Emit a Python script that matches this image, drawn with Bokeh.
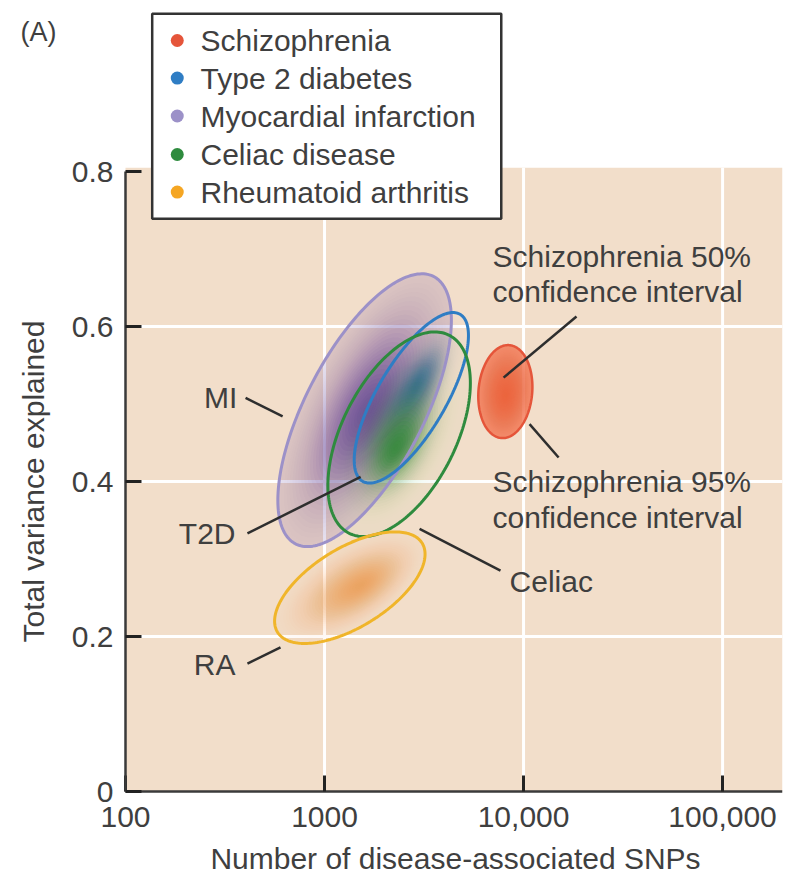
import numpy as np
from bokeh.plotting import figure
from bokeh.models import (Range1d, FixedTicker, CustomJSTickFormatter, Label,
                          ColumnDataSource)
from bokeh.embed import file_html
from bokeh.resources import INLINE
from bokeh.core.properties import value

# ---------------- data ----------------
diseases = ["Schizophrenia", "Type 2 diabetes", "Myocardial infarction",
            "Celiac disease", "Rheumatoid arthritis"]
# 95% confidence region of each disease (centre, half-extent, correlation)
center_snps = [8100, 2730, 1590, 2370, 1340]          # number of SNPs
center_var = [0.516, 0.508, 0.492, 0.461, 0.263]      # total variance explained
halfwidth_log10_snps = [0.136, 0.287, 0.436, 0.358, 0.378]
halfwidth_var = [0.060, 0.110, 0.176, 0.132, 0.072]
correlation = [0.10, 0.73, 0.66, 0.50, 0.60]
# densest point of each posterior cloud
peak_snps = [8120, 2930, 1610, 2280, 1520]
peak_var = [0.511, 0.526, 0.492, 0.443, 0.266]

x_ticks = [100, 1000, 10000, 100000]
y_ticks = [0, 0.2, 0.4, 0.6, 0.8]

x_title = "Number of disease-associated SNPs"
y_title = "Total variance explained"

# ---------------- styles ----------------
FONT = "Liberation Sans"
TXT = "#3f3f3f"
BG = "#F2DECA"
outline_colors = ["#E5553A", "#2F7DC4", "#9C91C8", "#2E8B3E", "#F0B52A"]
marker_colors = ["#E5553A", "#2F7DC4", "#9C91C8", "#2E8B3E", "#F5A623"]
fill_colors = ["#F0653F", "#3A6E9E", "#6B4A9C", "#2F8A36", "#EE9A45"]
# (peak opacity, edge opacity, sigma) of the blurred density
fill_profile = [(0.95, 0.60, 0.60), (0.85, 0.0, 0.30), (0.88, 0.14, 0.40),
                (0.88, 0.03, 0.28), (0.72, 0.0, 0.40)]
draw_order = [2, 1, 3, 4, 0]

X_MIN, X_MAX = 100, 200000
# the frame covers the whole canvas (both axes are pinned at X_MIN / 0),
# so the tag, tick labels and titles all stay inside it
VIEW_X_START = 10 ** (2 - 125 / 199.03)
VIEW_Y_START = -(879 - 791) / 775
VIEW_Y_END = 791 / 775

p = figure(width=794, height=879, x_axis_type="log",
           x_range=Range1d(VIEW_X_START, X_MAX),
           y_range=Range1d(VIEW_Y_START, VIEW_Y_END),
           output_backend="svg", toolbar_location=None,
           min_border_left=0, min_border_right=12, min_border_top=0,
           min_border_bottom=0)
p.xgrid.visible = False
p.ygrid.visible = False
p.outline_line_color = None
p.background_fill_color = "white"
p.border_fill_color = "white"

# background panel and white grid
p.quad(left=[X_MIN], right=[X_MAX], bottom=[0], top=[0.805],
       fill_color=BG, line_color=None)
p.segment(x0=x_ticks[1:], y0=[0] * 3, x1=x_ticks[1:], y1=[0.805] * 3,
          line_color="white", line_width=3)
p.segment(x0=[X_MIN] * 3, y0=y_ticks[1:4], x1=[X_MAX] * 3, y1=y_ticks[1:4],
          line_color="white", line_width=3)


def region(i, scale=1.0, cx=None, cy=None, n=200):
    t = np.linspace(0, 2 * np.pi, n)
    d = np.arccos(correlation[i])
    cx = center_snps[i] if cx is None else cx
    cy = center_var[i] if cy is None else cy
    u = np.log10(cx) + scale * halfwidth_log10_snps[i] * np.cos(t)
    v = cy + scale * halfwidth_var[i] * np.cos(t - d)
    return 10 ** u, v


# blurred densities
N = 30
for i in draw_order:
    peak, edge, sig = fill_profile[i]
    xs, ys, alphas = [], [], []
    prev = 0.0
    for j in range(N):
        r_out = 1 - j / N
        r_mid = r_out - 0.5 / N
        target = edge + (peak - edge) * np.exp(-r_mid ** 2 / (2 * sig ** 2))
        a = 1 - (1 - target) / (1 - prev)
        prev = target
        # blend the centre from the region centre toward the density peak
        w = 1 - r_out
        lx = 10 ** ((1 - w) * np.log10(center_snps[i]) + w * np.log10(peak_snps[i]))
        ly = (1 - w) * center_var[i] + w * peak_var[i]
        x, y = region(i, r_out, lx, ly)
        xs.append(x)
        ys.append(y)
        alphas.append(max(a, 0.0))
    src = ColumnDataSource(dict(xs=xs, ys=ys, a=alphas))
    p.patches("xs", "ys", source=src, fill_color=fill_colors[i],
              fill_alpha="a", line_color=None)

# outlines
for i in draw_order:
    x, y = region(i)
    p.line(x, y, line_color=outline_colors[i],
           line_width=3 if i else 2.5)

# leader lines
leaders = dict(
    x0=[401, 410, 410, 3002, 18450, 10720],
    y0=[0.508, 0.333, 0.165, 0.339, 0.613, 0.474],
    x1=[616, 1518, 601, 7657, 7935, 15000],
    y1=[0.484, 0.406, 0.186, 0.285, 0.534, 0.431],
)
p.segment("x0", "y0", "x1", "y1", source=ColumnDataSource(leaders),
          line_color="#2e2e2e", line_width=2.5)

# annotations
left_labels = ColumnDataSource(dict(x=[365, 357, 357], y=[0.508, 0.333, 0.164],
                                    t=["MI", "T2D", "RA"]))
p.text("x", "y", text="t", source=left_labels, text_align="right",
       text_baseline="middle", text_font=value(FONT),
       text_font_size="30px", text_color=TXT)
right_labels = ColumnDataSource(dict(
    x=[8505, 6983, 6983, 6983, 6983],
    y=[0.271, 0.690, 0.645, 0.400, 0.353],
    t=["Celiac", "Schizophrenia 50%", "confidence interval",
       "Schizophrenia 95%", "confidence interval"]))
p.text("x", "y", text="t", source=right_labels, text_align="left",
       text_baseline="middle", text_font=value(FONT),
       text_font_size="30px", text_color=TXT)

# legend (drawn box)
p.quad(left=[136.2], right=[7727], bottom=[0.739], top=[1.0035],
       fill_color="white", line_color="#333333", line_width=2.5)
leg_y = [0.969, 0.9206, 0.8716, 0.8219, 0.7735]
p.scatter(x=[182] * 5, y=leg_y, size=13, marker="circle",
          fill_color=marker_colors, line_color=None)
p.text(x=[238.2] * 5, y=leg_y, text=diseases, text_align="left",
       text_baseline="middle", text_font=value(FONT),
       text_font_size="30px", text_color=TXT)

# panel tag
p.add_layout(Label(x=29.7, y=0.9806, text="(A)", text_font=FONT,
                   text_font_size="27px", text_color=TXT,
                   text_baseline="middle", text_align="left"))

# x-axis title, centred under the plotting panel
p.add_layout(Label(x=4550, y=-0.0865, text=x_title, text_font=FONT,
                   text_font_size="30px", text_color=TXT,
                   text_baseline="middle", text_align="center"))

# axes
xa = p.xaxis[0]
xa.fixed_location = 0
xa.ticker = FixedTicker(ticks=x_ticks)
xa.bounds = (X_MIN, X_MAX)
xa.formatter = CustomJSTickFormatter(code="""
const t = Math.round(tick);
return t >= 10000 ? t.toLocaleString('en-US') : t.toString();
""")
ya = p.yaxis[0]
ya.fixed_location = X_MIN
ya.ticker = FixedTicker(ticks=y_ticks)
ya.formatter = CustomJSTickFormatter(code="""
return Math.abs(tick) < 1e-9 ? '0' : tick.toFixed(1);
""")
ya.bounds = (0, 0.8)
for ax in (xa, ya):
    ax.major_tick_in = 16
    ax.major_tick_out = 0
    ax.minor_tick_in = 0
    ax.minor_tick_out = 0
    ax.major_tick_line_width = 3
    ax.major_tick_line_color = "#222222"
    ax.axis_line_width = 2.5
    ax.axis_line_color = "#3a3a3a"
    ax.major_label_text_font = FONT
    ax.major_label_text_font_size = "30px"
    ax.major_label_text_color = TXT
    ax.axis_label_text_font = FONT
    ax.axis_label_text_font_size = "30px"
    ax.axis_label_text_font_style = "normal"
    ax.axis_label_text_color = TXT
xa.major_label_standoff = 15
ya.axis_label = y_title
ya.major_label_standoff = 12
ya.axis_label_standoff = 19

open("out.html", "w").write(file_html(p, INLINE))
